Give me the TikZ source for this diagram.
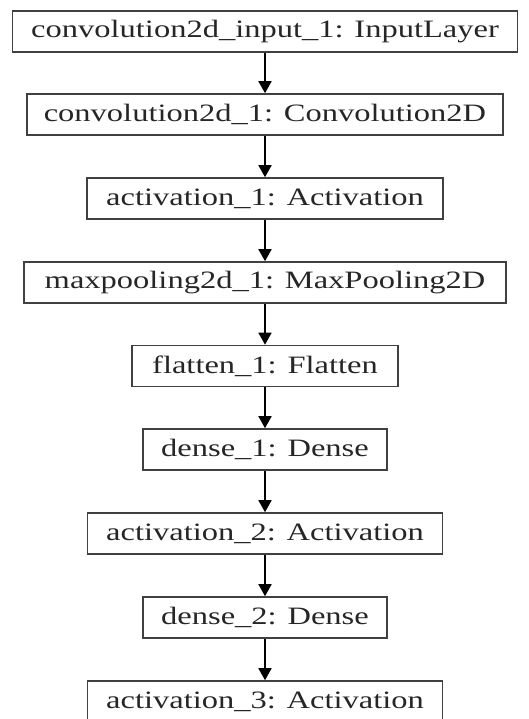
\documentclass[tikz,border=0pt]{standalone}
\usepackage{fontspec}
\setmainfont{Liberation Serif}[FakeStretch=1.3]
\usetikzlibrary{arrows.meta}
\begin{document}
\begin{tikzpicture}[x=1pt,y=-1pt,
  layer/.style={draw=black!75, line width=1.6pt, minimum height=41pt, inner sep=0pt,
    font=\fontsize{25}{30}\selectfont, text=black!85},
  flow/.style={-{Triangle[length=12pt,width=13pt]}, line width=1.8pt, black}]
\useasboundingbox (0,0) rectangle (528,719);
\node[layer, minimum width=505pt] (n1) at (265,31.5) {convolution2d\_input\_1: InputLayer};
\node[layer, minimum width=476pt] (n2) at (265,114.5) {convolution2d\_1: Convolution2D};
\node[layer, minimum width=356pt] (n3) at (265,198.5) {activation\_1: Activation};
\node[layer, minimum width=482pt] (n4) at (265,282.5) {maxpooling2d\_1: MaxPooling2D};
\node[layer, minimum width=266pt] (n5) at (265,366) {flatten\_1: Flatten};
\node[layer, minimum width=244pt] (n6) at (265,449.5) {dense\_1: Dense};
\node[layer, minimum width=355pt] (n7) at (265,533.5) {activation\_2: Activation};
\node[layer, minimum width=244pt] (n8) at (265,617.5) {dense\_2: Dense};
\node[layer, minimum width=355pt] (n9) at (265,701.5) {activation\_3: Activation};
\foreach \a/\b in {n1/n2,n2/n3,n3/n4,n4/n5,n5/n6,n6/n7,n7/n8,n8/n9}
  \draw[flow] (\a) -- (\b);
\end{tikzpicture}
\end{document}
